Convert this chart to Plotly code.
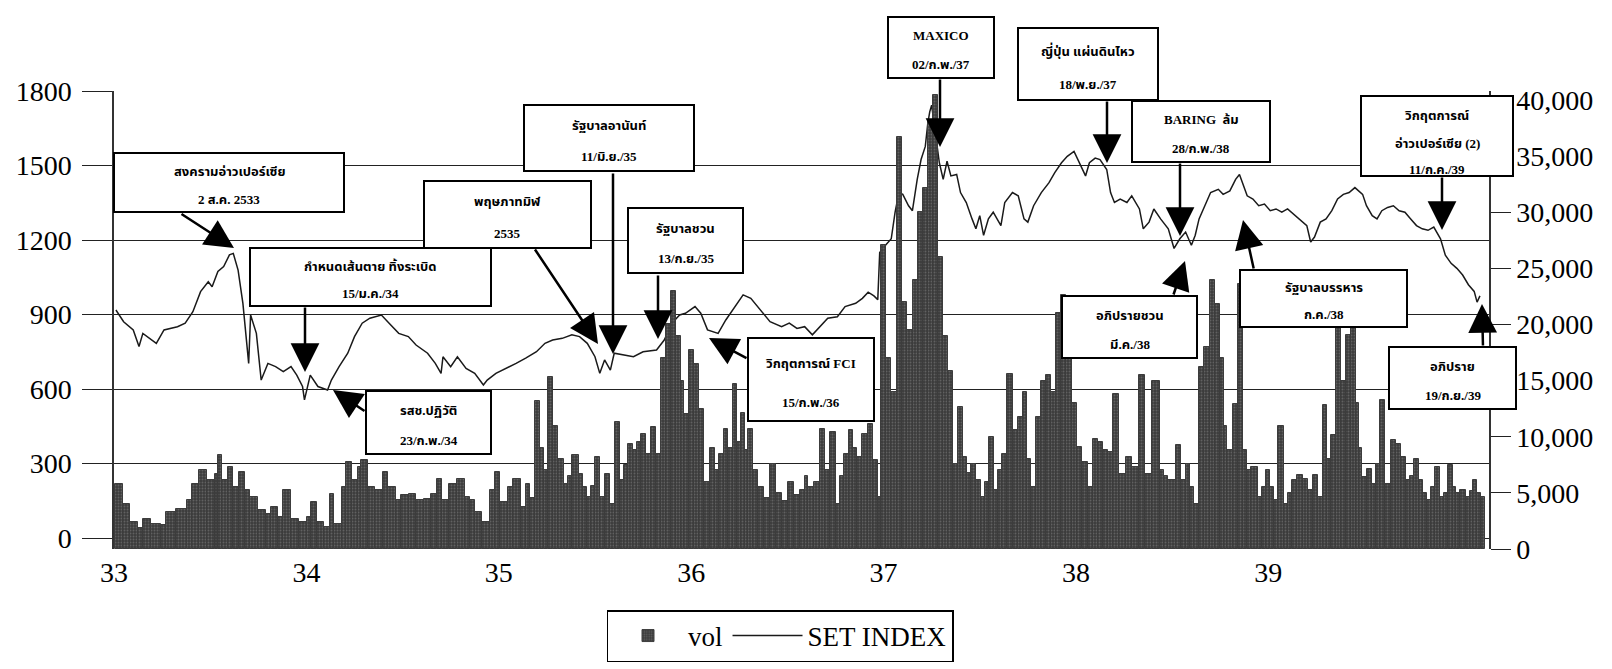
import numpy as np
import plotly.graph_objects as go

# ---------------- data ----------------
year_ticks = [33, 34, 35, 36, 37, 38, 39]
year_labels = ["33", "34", "35", "36", "37", "38", "39"]

set_x = [33.01, 33.05, 33.10, 33.13, 33.15, 33.22, 33.26, 33.33, 33.37, 33.41, 33.45, 33.49, 33.51, 33.54, 33.57,
         33.60, 33.62, 33.645, 33.67, 33.70, 33.71, 33.74, 33.765, 33.80, 33.84, 33.88, 33.92, 33.95, 33.98, 33.99,
         34.02, 34.06, 34.11, 34.13, 34.17, 34.215, 34.25, 34.29, 34.33, 34.39, 34.43, 34.48, 34.53, 34.57, 34.63,
         34.67, 34.70, 34.71, 34.75, 34.785, 34.83, 34.875, 34.92, 34.94, 34.985,
         35.04, 35.09, 35.14, 35.196, 35.24, 35.28, 35.33, 35.38, 35.42, 35.46, 35.50, 35.525, 35.55, 35.58, 35.60,
         35.645, 35.70, 35.75, 35.82, 35.86, 35.90, 35.94, 35.97,
         36.02, 36.05, 36.085, 36.14, 36.18, 36.23, 36.27, 36.31, 36.36, 36.41, 36.47, 36.51, 36.55, 36.59, 36.63,
         36.67, 36.71, 36.76, 36.80, 36.855, 36.89, 36.92, 36.95, 36.97, 36.98,
         37.01, 37.04, 37.06, 37.08, 37.10, 37.13, 37.15, 37.175, 37.195, 37.217, 37.23, 37.24, 37.25, 37.27, 37.29,
         37.31, 37.33, 37.35, 37.38, 37.40, 37.43, 37.46, 37.48, 37.50, 37.52, 37.545, 37.57, 37.61, 37.63, 37.67,
         37.70, 37.73, 37.75, 37.78, 37.82, 37.86, 37.89, 37.925, 37.955, 37.99,
         38.01, 38.05, 38.07, 38.10, 38.125, 38.16, 38.18, 38.20, 38.23, 38.265, 38.29, 38.33, 38.35, 38.38, 38.405,
         38.44, 38.48, 38.51, 38.54, 38.57, 38.60, 38.62, 38.64, 38.675, 38.70, 38.74, 38.765, 38.80, 38.83, 38.85,
         38.87, 38.89, 38.92, 38.95, 38.98,
         39.01, 39.04, 39.07, 39.10, 39.14, 39.16, 39.20, 39.22, 39.24, 39.27, 39.30, 39.33, 39.36, 39.39, 39.42,
         39.45, 39.49, 39.51, 39.54, 39.565, 39.59, 39.62, 39.65, 39.68, 39.71, 39.74, 39.77, 39.80, 39.83, 39.86,
         39.895, 39.92, 39.95, 39.98, 40.01, 40.04, 40.07, 40.085, 40.10]
set_y = [918, 871, 838, 771, 824, 784, 838, 851, 865, 911, 992, 1032, 1012, 1073, 1093,
         1140, 1146, 1079, 945, 703, 898, 824, 636, 703, 690, 670, 690, 656, 610, 556,
         656, 610, 596, 636, 690, 744, 811, 865, 885, 898, 865, 824, 811, 777, 744,
         703, 663, 730, 690, 730, 683, 663, 616, 636, 663,
         683, 703, 724, 750, 784, 797, 804, 818, 811, 784, 730, 663, 717, 676, 744,
         737, 730, 750, 757, 797, 865, 898, 905,
         932, 905, 838, 824, 878, 932, 979, 965, 918, 871, 851, 865, 844, 851, 818,
         851, 885, 891, 932, 945, 965, 990, 975, 960, 1150,
         1179, 1205, 1312, 1391, 1384, 1338, 1318, 1444, 1524, 1577, 1670, 1716, 1743, 1617, 1511,
         1444, 1517, 1458, 1464, 1391, 1351, 1285, 1245, 1298, 1219, 1285, 1312, 1258, 1351, 1391,
         1378, 1285, 1272, 1338, 1391, 1431, 1471, 1511, 1537, 1557,
         1524, 1458, 1511, 1530, 1524, 1484, 1391, 1351, 1365, 1351, 1378, 1325, 1245, 1272, 1325,
         1285, 1245, 1166, 1205, 1232, 1179, 1219, 1285, 1351, 1391, 1404, 1384, 1398, 1444, 1464,
         1418, 1378, 1365, 1338, 1345,
         1318, 1325, 1312, 1325, 1298, 1285, 1258, 1192, 1212, 1272, 1285, 1318, 1365, 1384, 1391,
         1411, 1384, 1338, 1298, 1285, 1318, 1331, 1338, 1318, 1312, 1285, 1258, 1245, 1239, 1252,
         1205, 1139, 1106, 1086, 1059, 1020, 993, 950, 975]

vol_x = [33.005, 33.046, 33.085, 33.125, 33.151, 33.192, 33.244, 33.270, 33.322, 33.377, 33.404, 33.442, 33.483,
         33.523, 33.541, 33.561, 33.593, 33.616, 33.648, 33.681, 33.707, 33.748, 33.788, 33.815, 33.852, 33.881,
         33.920, 33.960,
         34.001, 34.022, 34.054, 34.091, 34.125, 34.146, 34.185, 34.205, 34.239, 34.266, 34.284, 34.319, 34.358,
         34.398, 34.424, 34.465, 34.491, 34.531, 34.570, 34.610, 34.650, 34.677, 34.703, 34.743, 34.783, 34.822,
         34.849, 34.875, 34.915, 34.954, 34.980,
         35.006, 35.048, 35.074, 35.114, 35.141, 35.162, 35.188, 35.214, 35.235, 35.256, 35.282, 35.308, 35.339,
         35.360, 35.380, 35.417, 35.437, 35.458, 35.479, 35.500, 35.526, 35.552, 35.578, 35.604, 35.630, 35.651,
         35.672, 35.698, 35.718, 35.739, 35.765, 35.791, 35.817, 35.843, 35.869, 35.895, 35.921, 35.947, 35.963,
         35.989,
         36.014, 36.040, 36.066, 36.098, 36.123, 36.144, 36.170, 36.191, 36.217, 36.238, 36.259, 36.280, 36.295,
         36.321, 36.347, 36.378, 36.410, 36.441, 36.472, 36.503, 36.534, 36.566, 36.592, 36.607, 36.638, 36.669,
         36.695, 36.721, 36.752, 36.773, 36.794, 36.820, 36.841, 36.862, 36.888, 36.919, 36.945, 36.971, 36.987,
         37.013, 37.038, 37.070, 37.095, 37.122, 37.153, 37.179, 37.205, 37.231, 37.257, 37.283, 37.309, 37.335,
         37.361, 37.387, 37.413, 37.433, 37.454, 37.480, 37.506, 37.527, 37.548, 37.574, 37.595, 37.615, 37.641,
         37.673, 37.699, 37.725, 37.745, 37.766, 37.792, 37.818, 37.844, 37.870, 37.896, 37.922, 37.948, 37.979,
         38.005, 38.031, 38.062, 38.088, 38.114, 38.140, 38.166, 38.192, 38.223, 38.260, 38.291, 38.327, 38.359,
         38.395, 38.437, 38.457, 38.478, 38.520, 38.546, 38.572, 38.593, 38.613, 38.639, 38.665, 38.697, 38.722,
         38.748, 38.769, 38.784, 38.816, 38.842, 38.868, 38.889, 38.910, 38.946, 38.967, 38.988,
         39.008, 39.029, 39.050, 39.081, 39.102, 39.123, 39.149, 39.180, 39.206, 39.232, 39.258, 39.284, 39.305,
         39.325, 39.351, 39.377, 39.403, 39.429, 39.455, 39.471, 39.489, 39.515, 39.541, 39.561, 39.583, 39.608,
         39.640, 39.666, 39.692, 39.717, 39.738, 39.758, 39.782, 39.803, 39.825, 39.845, 39.866, 39.892, 39.912,
         39.934, 39.960, 39.975, 39.996, 40.027, 40.048, 40.064, 40.085, 40.105]
vol_y = [5800, 4030, 2430, 1840, 2700, 2250, 2100, 3300, 3590, 4330, 5800, 7000, 6120,
         6700, 8330, 6120, 7300, 5520, 6860, 5220, 4630, 3440, 3140, 3740, 2850, 5220,
         2700, 2400,
         2850, 4180, 2430, 2000, 4930, 2250, 5520, 7740, 6120, 7300, 7900, 5520, 5220,
         6860, 5520, 4330, 4780, 4930, 4330, 4480, 4930, 6260, 4330, 5810, 6260, 4630,
         4330, 3300, 2400, 5220, 6860,
         4180, 5520, 6260, 3740, 5810, 4500, 13200, 9000, 7000, 15300, 11000, 8000, 5800,
         6500, 8330, 6700, 5500, 4630, 5600, 8180, 4630, 6700, 4030, 11300, 6120, 7500,
         9380, 8800, 9500, 10270, 8480, 10860, 8480, 17000, 20000, 23000, 19000, 15000, 12000,
         17700,
         16500, 12500, 6000, 9000, 7000, 8500, 10700, 9000, 14700, 9500, 12100, 8800, 10700,
         7000, 5500, 4500, 7600, 5000, 4300, 6000, 4800, 5300, 6500, 5520, 6000, 10700,
         7000, 10400, 4030, 6500, 8480, 10560, 9000, 8180, 10270, 11160, 7900, 4630, 27100,
         17000, 14000, 36700, 22000, 19500, 24000, 30000, 32200, 38000, 40400, 26000, 19000, 15900,
         7600, 12640, 8180, 6800, 7600, 6120, 4630, 6000, 9970, 5220, 7000, 8480, 15600,
         10560, 11750, 14000, 8000, 5520, 11750, 15000, 15500, 14000, 21000, 22600, 20000, 13000,
         9080, 7740, 5520, 9820, 9530, 8800, 8640, 13800, 6700, 8180, 7300, 15500, 6700,
         15000, 7000, 6500, 6120, 9230, 6120, 7600, 5500, 4030, 16200, 18000, 24000, 21800,
         17000, 11000, 8800, 12900, 23600, 8800, 7000, 7300, 4630, 5500, 7000,
         5500, 4330, 11000, 4030, 5000, 6120, 6560, 6260, 5220, 6560, 4630, 12790, 8000,
         10120, 19700, 15000, 19100, 19700, 13000, 9000, 6400, 7150, 5810, 7600, 13240, 5810,
         9670, 9380, 8180, 6120, 6500, 8030, 6120, 5000, 4330, 5500, 7300, 4630, 5000,
         7450, 5520, 5000, 5220, 4630, 5200, 6120, 5000, 4630]

left_ticks = [0, 300, 600, 900, 1200, 1500, 1800]
right_ticks = [0, 5000, 10000, 15000, 20000, 25000, 30000, 35000, 40000]
right_labels = ["0", "5,000", "10,000", "15,000", "20,000", "25,000", "30,000", "35,000", "40,000"]

assert len(set_x) == len(set_y)
assert len(vol_x) == len(vol_y)

# event boxes: pixel box (x0, x1, y0, y1), text lines
events = [
    ((106, 336, 145, 204), ["สงครามอ่าวเปอร์เซีย", "2 ส.ค. 2533"]),
    ((242, 483, 240, 298), ["กำหนดเส้นตาย ทิ้งระเบิด", "15/ม.ค./34"]),
    ((358, 483, 383, 446), ["รสช.ปฏิวัติ", "23/ก.พ./34"]),
    ((416, 583, 173, 240), ["พฤษภาทมิฬ", "2535"]),
    ((516, 686, 97, 163), ["รัฐบาลอานันท์", "11/มิ.ย./35"]),
    ((620, 735, 200, 265), ["รัฐบาลชวน", "13/ก.ย./35"]),
    ((740, 866, 330, 413), ["วิกฤตการณ์ FCI", "15/ก.พ./36"]),
    ((880, 986, 9, 70), ["MAXICO", "02/ก.พ./37"]),
    ((1010, 1150, 20, 92), ["ญี่ปุ่น แผ่นดินไหว", "18/พ.ย./37"]),
    ((1124, 1262, 93, 154), ["BARING  ล้ม", "28/ก.พ./38"]),
    ((1353, 1505, 88, 168), ["วิกฤตการณ์", "อ่าวเปอร์เซีย (2)", "11/ก.ค./39"]),
    ((1054, 1189, 288, 350), ["อภิปรายชวน", "มี.ค./38"]),
    ((1232, 1399, 262, 319), ["รัฐบาลบรรหาร", "ก.ค./38"]),
    ((1381, 1508, 339, 401), ["อภิปราย", "19/ก.ย./39"]),
]
# arrows: (tail px, tip px)
arrows = [
    ((172, 205), (226, 240)), ((297, 298), (297, 364)), ((358, 404), (325, 382)),
    ((526, 240), (590, 336)), ((605, 164), (605, 346)), ((650, 266), (650, 331)),
    ((740, 351), (701, 330)), ((932, 70), (932, 139)), ((1099, 92), (1099, 155)),
    ((1172, 154), (1172, 228)), ((1434, 168), (1434, 222)), ((1165, 288), (1177, 253)),
    ((1246, 262), (1235, 212)), ((1475, 339), (1474, 296)),
]

# ---------------- geometry ----------------
W, H = 1612, 669
L, R, T, B = 106, 1481, 83, 541


def px_x(X):
    return (X - L) / (R - L)


def px_y(Y):
    return (B - Y) / (B - T)


vol_edges = vol_x + [40.125]
vol_w = list(np.diff(vol_edges))

serif = "Liberation Serif, Times New Roman, serif"
thai = "Liberation Serif, Noto Sans Thai, Noto Serif Thai, Loma, Garuda, DejaVu Sans, sans-serif"
BARC = "#3c3c3c"

fig = go.Figure()
fig.add_trace(go.Bar(
    x=vol_x, y=vol_y, width=vol_w, offset=0, name="vol", yaxis="y2",
    marker=dict(color=BARC, line=dict(width=1, color=BARC),
                pattern=dict(shape=".", fgcolor="#858585", size=3, solidity=0.3)),
))
fig.add_trace(go.Scatter(
    x=set_x, y=set_y, mode="lines", name="SET INDEX", yaxis="y",
    line=dict(color="#1a1a1a", width=1.5),
))

shapes = []
annotations = []
for (x0, x1, y0, y1), lines in events:
    shapes.append(dict(type="rect", xref="paper", yref="paper",
                       x0=px_x(x0), x1=px_x(x1), y0=px_y(y1), y1=px_y(y0),
                       line=dict(color="black", width=2), fillcolor="white", layer="above"))
    h = y1 - y0
    fr = [0.31, 0.78] if len(lines) == 2 else [0.24, 0.59, 0.92]
    for t, f in zip(lines, fr):
        annotations.append(dict(xref="paper", yref="paper", x=px_x((x0 + x1) / 2), y=px_y(y0 + f * h),
                                text=t, showarrow=False, xanchor="center", yanchor="middle",
                                font=dict(family=thai, size=13, color="black", weight="bold")))
for (tx, ty), (hx, hy) in arrows:
    annotations.append(dict(xref="paper", yref="paper", x=px_x(hx), y=px_y(hy), text="",
                            showarrow=True, ax=tx - hx, ay=ty - hy, arrowhead=2, arrowsize=2.3,
                            arrowwidth=2.5, arrowcolor="black", standoff=0, startstandoff=0))

fig.update_layout(
    width=W, height=H, autosize=False,
    margin=dict(l=L, r=W - R, t=T, b=H - B, autoexpand=False),
    paper_bgcolor="white", plot_bgcolor="white",
    barmode="overlay", bargap=0,
    showlegend=True,
    legend=dict(orientation="h", x=px_x(772), y=px_y(628), xanchor="center", yanchor="middle",
                bordercolor="black", borderwidth=1.5, bgcolor="white",
                font=dict(family=serif, size=27, color="black"), itemwidth=70),
    xaxis=dict(range=[33.0, 40.147], tickvals=year_ticks, ticktext=year_labels, showgrid=False,
               zeroline=False, showline=False, ticks="", ticklabelstandoff=4,
               tickfont=dict(family=serif, size=28, color="black")),
    yaxis=dict(range=[-44.3, 1800], tickvals=left_ticks, tickformat="d", showgrid=True,
               gridcolor="#222", gridwidth=1, zeroline=False, showline=True, linecolor="#333",
               linewidth=1.5, ticks="outside", ticklen=30, tickcolor="#222", tickwidth=1.3,
               ticklabelstandoff=5, tickfont=dict(family=serif, size=28, color="black")),
    yaxis2=dict(range=[0, 40800], overlaying="y", side="right", tickvals=right_ticks,
                ticktext=right_labels, showgrid=False, zeroline=False, showline=True,
                linecolor="#333", linewidth=1.5, ticks="outside", ticklen=20, tickcolor="#222",
                tickwidth=1.3, tickfont=dict(family=serif, size=28, color="black")),
    shapes=shapes,
    annotations=annotations,
)

fig.write_html("out.html")
